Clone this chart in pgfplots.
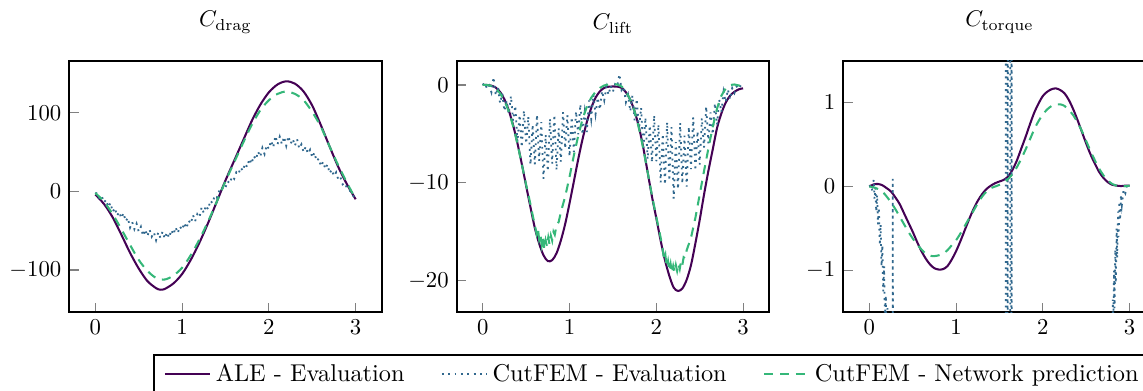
\documentclass[border=0pt]{standalone}
\usepackage{pgfplots}
\pgfplotsset{compat=1.18}
\definecolor{cale}{HTML}{440154}
\definecolor{ccut}{HTML}{31688E}
\definecolor{cnet}{HTML}{35B779}
\pgfplotsset{
 panel/.style={
  scale only axis, width=137.46pt, height=110.7pt,
  anchor=south west,
  xmin=-0.3, xmax=3.3, xtick={0,1,2,3},
  tick pos=left,
  axis line style={line width=0.8pt},
  tick style={gray, line width=0.5pt},
  title style={yshift=2.5pt},
 },
 ale/.style={cale, line width=0.9pt, no markers},
 cut/.style={ccut, line width=0.8pt, dotted, no markers},
 net/.style={cnet, line width=0.9pt, dash pattern=on 4pt off 3pt, no markers},
}
\begin{document}
\begin{tikzpicture}
% ---------------- C_drag ----------------
\begin{axis}[panel, at={(30.49pt,34.19pt)},
  ymin=-153.7, ymax=166.2, ytick={-100,0,100},
  title={$C_{\mathrm{drag}}$},
  legend columns=3,
  legend image code/.code={\draw[#1] (0cm,0cm) -- (0.7cm,0cm);},
  legend style={at={(0.268,-0.165)}, anchor=north west, draw=black, line width=0.8pt,
    inner xsep=4.4pt, font=\fontsize{10.7pt}{12.8pt}\selectfont,
    /tikz/every even column/.append style={column sep=14pt}}]
\addplot[ale, smooth] coordinates {(0,-4)(0.1,-16)(0.2,-33)(0.3,-55)(0.4,-78)(0.5,-98)(0.6,-114)(0.7,-123)(0.75,-125)(0.8,-124)(0.9,-117)(1.0,-105)(1.1,-87)(1.2,-65)(1.3,-40)(1.4,-13)(1.5,14)(1.6,39)(1.7,64)(1.8,89)(1.9,110)(2.0,126)(2.1,136)(2.2,140)(2.3,137)(2.4,127)(2.5,109)(2.6,84)(2.7,57)(2.8,31)(2.9,9)(3.0,-10)};
\addlegendentry{ALE - Evaluation}
\addplot[cut] coordinates {(0,-2)(0.025,-2.5)(0.05,-10)(0.075,-6.5)(0.1,-14)(0.125,-10.5)(0.15,-20)(0.175,-14.5)(0.2,-26)(0.225,-21)(0.25,-31)(0.275,-26)(0.3,-34)(0.325,-27.5)(0.35,-38)(0.375,-33.5)(0.4,-46)(0.425,-39)(0.45,-48)(0.475,-41)(0.5,-51)(0.525,-45)(0.55,-56.5)(0.575,-48.5)(0.6,-57)(0.625,-48.5)(0.65,-57.5)(0.675,-52)(0.7,-62)(0.725,-52)(0.75,-59)(0.775,-51)(0.8,-60)(0.825,-52)(0.85,-59)(0.875,-49)(0.9,-55)(0.925,-45.5)(0.95,-53)(0.975,-44.5)(1.0,-49)(1.025,-40)(1.05,-47)(1.075,-37)(1.1,-41)(1.125,-30)(1.15,-38)(1.175,-29)(1.2,-33)(1.225,-20)(1.25,-27.5)(1.275,-17.8)(1.3,-23)(1.325,-11.5)(1.35,-15)(1.375,-5.5)(1.4,-8)(1.425,0)(1.45,-1)(1.475,7)(1.5,5)(1.525,13)(1.55,10)(1.575,19)(1.6,16)(1.625,24.5)(1.65,22)(1.675,30.5)(1.7,26)(1.725,35.5)(1.75,31)(1.775,41.5)(1.8,35)(1.825,45.3)(1.85,40.5)(1.875,50.8)(1.9,44)(1.925,55.3)(1.95,47.5)(1.975,58.8)(2.0,54)(2.025,64.5)(2.05,56)(2.075,70.5)(2.1,60)(2.125,69.5)(2.15,60)(2.175,69.5)(2.2,58)(2.225,70.3)(2.25,60.5)(2.275,66.8)(2.3,58)(2.325,66.3)(2.35,54.5)(2.375,59.8)(2.4,50)(2.425,57)(2.45,48)(2.475,53)(2.5,43)(2.525,49.3)(2.55,38.5)(2.575,41.8)(2.6,32)(2.625,37.8)(2.65,28.5)(2.675,34.3)(2.7,23)(2.725,27.8)(2.75,19.5)(2.775,24.3)(2.8,15)(2.825,18)(2.85,9)(2.875,11)(2.9,4)(2.925,3)(2.95,-3)(2.975,-6)(3.0,-10)};
\addlegendentry{CutFEM - Evaluation}
\addplot[net, smooth] coordinates {(0,-2)(0.1,-13)(0.2,-29)(0.3,-48)(0.4,-68)(0.5,-87)(0.6,-101)(0.7,-110)(0.8,-112)(0.9,-107)(1.0,-97)(1.1,-81)(1.2,-61)(1.3,-38)(1.4,-13)(1.5,13)(1.6,37)(1.7,61)(1.8,84)(1.9,103)(2.0,116)(2.1,124)(2.2,127)(2.3,124)(2.4,116)(2.5,101)(2.6,82)(2.7,57)(2.8,33)(2.9,11)(3.0,-10)};
\addlegendentry{CutFEM - Network prediction}
\end{axis}
% ---------------- C_lift ----------------
\begin{axis}[panel, at={(200.95pt,34.19pt)},
  ymin=-23.23, ymax=2.48, ytick={-20,-10,0},
  title={$C_{\mathrm{lift}}$}]
\addplot[ale, smooth] coordinates {(0,0)(0.05,0)(0.1,-0.07)(0.15,-0.27)(0.2,-0.71)(0.25,-1.47)(0.3,-2.6)(0.35,-4.11)(0.4,-5.96)(0.45,-8.07)(0.5,-10.3)(0.55,-12.5)(0.6,-14.6)(0.65,-16.2)(0.7,-17.4)(0.75,-18.0)(0.8,-17.9)(0.85,-17.2)(0.9,-15.9)(0.95,-14.2)(1.0,-12.1)(1.05,-9.86)(1.1,-7.6)(1.15,-5.54)(1.2,-3.77)(1.25,-2.35)(1.3,-1.3)(1.35,-0.65)(1.4,-0.3)(1.45,-0.18)(1.5,-0.15)(1.55,-0.17)(1.6,-0.3)(1.65,-0.75)(1.7,-1.5)(1.75,-2.7)(1.8,-4.3)(1.85,-6.4)(1.9,-8.9)(1.95,-11.4)(2.0,-13.6)(2.05,-15.9)(2.1,-17.9)(2.15,-19.5)(2.2,-20.7)(2.25,-21.05)(2.3,-20.8)(2.35,-19.9)(2.4,-18.4)(2.45,-16.2)(2.5,-13.8)(2.55,-11.2)(2.6,-8.8)(2.65,-6.6)(2.7,-4.4)(2.75,-2.9)(2.8,-1.8)(2.85,-1.1)(2.9,-0.7)(2.95,-0.45)(3.0,-0.34)};
\addplot[cut] coordinates {(0,0)(0.025,0.22)(0.05,-0.41)(0.075,-0.07)(0.1,-0.74)(0.125,0.8)(0.15,-1.07)(0.175,-0.22)(0.2,-1.87)(0.225,-0.88)(0.25,-2.66)(0.275,-1.6)(0.3,-2.97)(0.325,-1.13)(0.35,-3.66)(0.375,-2.12)(0.4,-5.81)(0.425,-3.07)(0.45,-6.36)(0.475,-2.62)(0.5,-5.99)(0.525,-3.22)(0.55,-8.14)(0.575,-4.05)(0.6,-8.1)(0.625,-3.05)(0.65,-7.75)(0.675,-3.79)(0.7,-9.58)(0.725,-5.09)(0.75,-8.81)(0.775,-3.45)(0.8,-8.05)(0.825,-3.05)(0.85,-8.7)(0.875,-4.42)(0.9,-7.84)(0.925,-2.78)(0.95,-6.49)(0.975,-3.09)(1.0,-7.3)(1.025,-3.29)(1.05,-6.83)(1.075,-2.7)(1.1,-5.05)(1.125,-1.98)(1.15,-5.07)(1.175,-2.79)(1.2,-4.8)(1.225,-1.59)(1.25,-3.48)(1.275,-0.99)(1.3,-2.98)(1.325,-1.29)(1.35,-2.52)(1.375,-0.62)(1.4,-1.58)(1.425,-0.2)(1.45,-1.01)(1.475,-0.08)(1.5,-0.7)(1.525,0.07)(1.55,-0.15)(1.575,1.1)(1.6,-0.51)(1.625,-0.2)(1.65,-1.75)(1.675,-1.03)(1.7,-2.69)(1.725,-1.07)(1.75,-3.61)(1.775,-1.43)(1.8,-4.56)(1.825,-2.32)(1.85,-6.68)(1.875,-3.32)(1.9,-7.58)(1.925,-4.14)(1.95,-7.9)(1.975,-3.1)(2.0,-7.79)(2.025,-4.04)(2.05,-9.97)(2.075,-5.0)(2.1,-10.17)(2.125,-3.79)(2.15,-9.77)(2.175,-4.3)(2.2,-11.61)(2.225,-5.84)(2.25,-10.64)(2.275,-3.87)(2.3,-10.08)(2.325,-5.18)(2.35,-10.39)(2.375,-4.27)(2.4,-8.6)(2.425,-3.32)(2.45,-8.74)(2.475,-4.74)(2.5,-8.14)(2.525,-3.39)(2.55,-6.41)(2.575,-2.2)(2.6,-5.95)(2.625,-2.8)(2.65,-5.05)(2.675,-1.85)(2.7,-4.07)(2.725,-1.49)(2.75,-2.78)(2.775,-0.7)(2.8,-1.75)(2.825,-0.46)(2.85,-1.47)(2.875,-0.33)(2.9,-0.82)(2.925,-0.15)(2.95,-0.41)(2.975,-0.02)(3.0,-0.1)};
\addplot[net] coordinates {(0,0)(0.05,0)(0.1,-0.1)(0.15,-0.35)(0.2,-0.85)(0.25,-1.6)(0.3,-2.7)(0.35,-4.2)(0.4,-6.0)(0.45,-8.1)(0.5,-10.2)(0.55,-12.2)(0.575,-13.3)(0.6,-14.3)(0.62,-15.2)(0.635,-14.6)(0.65,-15.8)(0.665,-15.3)(0.68,-16.4)(0.695,-15.7)(0.71,-16.8)(0.725,-15.9)(0.74,-16.5)(0.755,-15.6)(0.77,-16.3)(0.785,-15.4)(0.8,-15.9)(0.815,-15.0)(0.83,-15.3)(0.85,-14.4)(0.875,-14.0)(0.9,-13.0)(0.95,-11.4)(1.0,-9.4)(1.05,-7.2)(1.1,-5.2)(1.15,-3.5)(1.2,-2.2)(1.25,-1.3)(1.3,-0.7)(1.35,-0.3)(1.4,-0.05)(1.45,0.05)(1.5,0.1)(1.55,0.05)(1.6,-0.15)(1.65,-0.65)(1.7,-1.5)(1.75,-2.7)(1.8,-4.4)(1.85,-6.5)(1.9,-8.9)(1.95,-11.3)(2.0,-13.5)(2.05,-15.6)(2.07,-16.6)(2.09,-17.9)(2.105,-17.4)(2.12,-18.6)(2.135,-18.0)(2.15,-19.0)(2.165,-18.3)(2.18,-19.2)(2.195,-18.5)(2.21,-19.1)(2.225,-18.4)(2.24,-19.0)(2.255,-18.3)(2.27,-18.8)(2.285,-18.0)(2.3,-18.4)(2.315,-17.6)(2.33,-17.7)(2.35,-16.9)(2.4,-15.6)(2.45,-13.6)(2.5,-11.2)(2.55,-8.8)(2.6,-6.5)(2.65,-4.3)(2.7,-2.4)(2.75,-1.1)(2.8,-0.35)(2.85,0.0)(2.9,0.05)(2.95,-0.05)(3.0,-0.2)};
\end{axis}
% ---------------- C_torque ----------------
\begin{axis}[panel, at={(371.05pt,34.19pt)},
  ymin=-1.5, ymax=1.5, ytick={-1,0,1},
  title={$C_{\mathrm{torque}}$}]
\addplot[ale, smooth] coordinates {(0,0)(0.05,0.025)(0.1,0.03)(0.15,0.015)(0.2,-0.02)(0.25,-0.06)(0.3,-0.13)(0.35,-0.21)(0.4,-0.32)(0.45,-0.43)(0.5,-0.54)(0.55,-0.66)(0.6,-0.77)(0.65,-0.86)(0.7,-0.93)(0.75,-0.975)(0.8,-0.99)(0.85,-0.985)(0.9,-0.95)(0.95,-0.87)(1.0,-0.77)(1.05,-0.65)(1.1,-0.52)(1.15,-0.39)(1.2,-0.27)(1.25,-0.17)(1.3,-0.09)(1.35,-0.03)(1.4,0.01)(1.45,0.04)(1.5,0.06)(1.55,0.08)(1.6,0.12)(1.65,0.2)(1.7,0.31)(1.75,0.45)(1.8,0.59)(1.85,0.74)(1.9,0.88)(1.95,0.99)(2.0,1.08)(2.05,1.13)(2.1,1.16)(2.15,1.17)(2.2,1.15)(2.25,1.11)(2.3,1.03)(2.35,0.92)(2.4,0.79)(2.45,0.65)(2.5,0.51)(2.55,0.38)(2.6,0.27)(2.65,0.17)(2.7,0.1)(2.75,0.05)(2.8,0.02)(2.85,0.01)(2.9,0.005)(2.95,0.01)(3.0,0.01)};
\addplot[cut] coordinates {(0,0)(0.02,0.02)(0.035,-0.06)(0.05,0.08)(0.06,-0.15)(0.07,-0.02)(0.08,-0.3)(0.09,-0.1)(0.1,-0.45)(0.11,-0.25)(0.12,-0.7)(0.13,-0.45)(0.14,-0.95)(0.15,-0.7)(0.16,-1.25)(0.17,-0.95)(0.18,-1.6)(0.19,-1.3)(0.2,-2.2)(0.21,-1.45)(0.22,-3)(0.268,-3)(0.27,0.09)(0.272,-3)(1.57,-3)(1.575,3)(1.59,3)(1.594,-3)(1.597,3)(1.622,3)(1.625,-3)(1.636,-3)(1.639,3)(1.642,-3)(2.8,-3)(2.805,-1.35)(2.812,-1.6)(2.82,-1.0)(2.826,-1.45)(2.834,-0.75)(2.84,-1.15)(2.85,-0.5)(2.856,-0.85)(2.866,-0.3)(2.872,-0.6)(2.882,-0.18)(2.89,-0.4)(2.9,-0.1)(2.91,-0.22)(2.93,-0.04)(2.95,-0.08)(2.97,0.02)(3.0,0.01)};
\addplot[net, smooth] coordinates {(0,0)(0.05,-0.01)(0.1,-0.03)(0.15,-0.06)(0.2,-0.12)(0.25,-0.19)(0.3,-0.27)(0.35,-0.36)(0.4,-0.45)(0.45,-0.54)(0.5,-0.62)(0.55,-0.69)(0.6,-0.75)(0.65,-0.8)(0.7,-0.825)(0.75,-0.83)(0.8,-0.82)(0.85,-0.8)(0.9,-0.76)(0.95,-0.7)(1.0,-0.64)(1.05,-0.56)(1.1,-0.47)(1.15,-0.38)(1.2,-0.29)(1.25,-0.2)(1.3,-0.12)(1.35,-0.06)(1.4,-0.02)(1.45,0.0)(1.5,0.02)(1.55,0.05)(1.6,0.09)(1.65,0.15)(1.7,0.23)(1.75,0.33)(1.8,0.44)(1.85,0.56)(1.9,0.68)(1.95,0.78)(2.0,0.86)(2.05,0.92)(2.1,0.96)(2.15,0.98)(2.2,0.98)(2.25,0.96)(2.3,0.91)(2.35,0.85)(2.4,0.76)(2.45,0.66)(2.5,0.54)(2.55,0.42)(2.6,0.31)(2.65,0.21)(2.7,0.13)(2.75,0.07)(2.8,0.03)(2.85,0.01)(2.9,0.0)(2.95,0.005)(3.0,0.01)};
\end{axis}
\pgfresetboundingbox
\useasboundingbox (0,0) rectangle (502.92pt,171.6pt);
\end{tikzpicture}
\end{document}
